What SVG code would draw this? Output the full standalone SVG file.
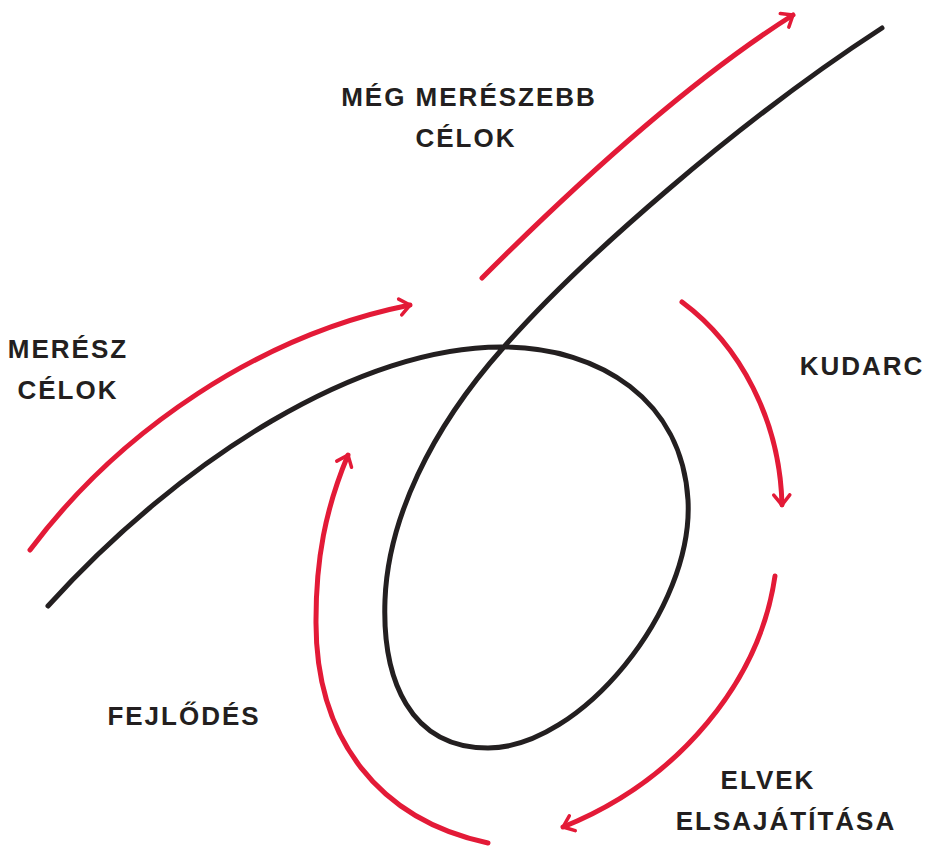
<svg xmlns="http://www.w3.org/2000/svg" width="926" height="847" viewBox="0 0 926 847">
<style>
.blk{fill:none;stroke:#231f20;stroke-width:5;stroke-linecap:round;stroke-linejoin:round}
.red{fill:none;stroke:#e31a37;stroke-width:5;stroke-linecap:round}
.lbl{font-family:"Liberation Sans",Arial,sans-serif;font-weight:bold;font-size:26px;letter-spacing:2px;fill:#231f20;text-anchor:middle}
</style>
<defs>
<marker id="ah" viewBox="0 0 14 20" refX="12" refY="10" markerWidth="14" markerHeight="20" markerUnits="userSpaceOnUse" orient="auto">
<path d="M2,2 L12,10 L2,18" fill="none" stroke="#e31a37" stroke-width="3.5" stroke-linecap="round" stroke-linejoin="round"/>
</marker>
</defs>
<rect width="926" height="847" fill="#fff"/>
<g id="path-line">
<path class="blk" d="M48,606 C180,460 360,345 505,347 C600,348 682,400 688,500 C694,610 580,748 488,748 C410,748 382,680 385,600 C388,520 430,430 503,348 C580,260 740,120 882,28"/>
</g>
<g id="connectors">
<path class="red" marker-end="url(#ah)" d="M30,550 C120,430 260,335 410,305"/>
<path class="red" marker-end="url(#ah)" d="M482,278 C580,180 690,80 793,15"/>
<path class="red" marker-end="url(#ah)" d="M682,302 C740,345 780,420 782,505"/>
<path class="red" marker-end="url(#ah)" d="M775,576 C760,680 680,780 563,827"/>
<path class="red" marker-end="url(#ah)" d="M488,843 C380,820 315,740 316,620 C316,560 325,510 348,455"/>
</g>
<g id="label-meg-mereszebb">
<text class="lbl" x="469" y="106">MÉG MERÉSZEBB</text>
<text class="lbl" x="466" y="147">CÉLOK</text>
</g>
<g id="label-meresz">
<text class="lbl" x="68" y="358">MERÉSZ</text>
<text class="lbl" x="68" y="399">CÉLOK</text>
</g>
<g id="label-kudarc">
<text class="lbl" x="862" y="375">KUDARC</text>
</g>
<g id="label-fejlodes">
<text class="lbl" x="184" y="725">FEJLŐDÉS</text>
</g>
<g id="label-elvek">
<text class="lbl" x="768" y="789">ELVEK</text>
<text class="lbl" x="786" y="830">ELSAJÁTÍTÁSA</text>
</g>
</svg>
